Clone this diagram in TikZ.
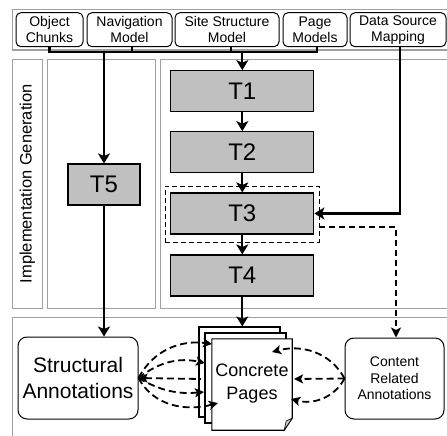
\documentclass[tikz,border=0pt]{standalone}
\usepackage{fontspec}
\setmainfont{Liberation Sans}
\usetikzlibrary{arrows.meta}
\definecolor{panelgray}{HTML}{A0A0A0}
\definecolor{taskgray}{HTML}{C0C0C0}
\definecolor{foldgray}{HTML}{C8C8C8}
\begin{document}
\begin{tikzpicture}[x=1pt,y=-1pt,
  panel/.style={draw=panelgray, line width=1pt},
  src/.style={draw, rounded corners=5pt, line width=1pt, inner sep=0pt,
    align=center, font=\fontsize{14}{16}\selectfont},
  task/.style={draw, fill=taskgray, line width=1.1pt, inner sep=0pt,
    minimum width=143pt, minimum height=41pt, font=\fontsize{24}{24}\selectfont},
  ann/.style={draw, rounded corners=9pt, line width=1pt, inner sep=0pt, align=center},
  page/.style={draw, fill=white, line width=1.1pt, inner sep=0pt},
  wire/.style={line width=2.2pt},
  arr/.style={line width=2.2pt, -{Stealth[length=10pt,width=12pt,inset=2.5pt]}},
  dashwire/.style={line width=1.8pt, dash pattern=on 6pt off 4pt},
  dasharr/.style={dashwire, -{Stealth[length=10pt,width=10pt,inset=2.5pt]}},
  linkarr/.style={line width=1.8pt, dash pattern=on 7pt off 4pt,
    -{Stealth[length=9pt,width=9pt,inset=2pt]}}
]
\useasboundingbox (0,0) rectangle (447,436);
\clip (0,0) rectangle (447,436);

% group frames
\draw[panel, line width=1.5pt] (12.5,9.5) rectangle (455,50);
\draw[panel] (12.3,59.3) rectangle (42.3,308.3);
\draw[panel] (47.7,59.3) rectangle (155,308.3);
\draw[panel] (160,59.5) rectangle (455,308.3);
\draw[panel] (12.3,317) rectangle (455,445);

\node[rotate=90, font=\fontsize{16.5}{18}\selectfont] (ig) at (27.3,183.8) {Implementation Generation};

% input models
\node[src, minimum width=67pt, minimum height=34pt] (oc) at (49.5,29.7) {Object\\Chunks};
\node[src, minimum width=85pt, minimum height=34pt] (nm) at (129.5,29.7) {Navigation\\Model};
\node[src, minimum width=104pt, minimum height=34pt] (ss) at (227,29.7) {Site Structure\\Model};
\node[src, minimum width=64pt, minimum height=34pt] (pm) at (315,29.7) {Page\\Models};
\node[src, minimum width=96pt, minimum height=34pt] (ds) at (398,29.7) {Data Source\\Mapping};

% transformation steps
\node[task] (t1) at (242.3,91.2) {T1};
\node[task] (t2) at (242.3,152.2) {T2};
\node[task] (t3) at (242.3,213.5) {T3};
\node[task] (t4) at (242.3,275.5) {T4};
\node[task, minimum width=72pt] (t5) at (104,184.5) {T5};
\node[draw, line width=1pt, dash pattern=on 5pt off 3pt, inner sep=0pt,
  minimum width=154pt, minimum height=56pt] (t3box) at (242,214) {};

% annotation outputs
\node[ann, minimum width=120pt, minimum height=82pt, font=\fontsize{21}{26}\selectfont]
  (sa) at (78,378) {Structural\\Annotations};
\node[ann, minimum width=99pt, minimum height=81pt, font=\fontsize{14}{16.5}\selectfont]
  (ca) at (394.5,378.5) {Content\\Related\\Annotations};

% stack of concrete pages
\node[page, minimum width=81pt, minimum height=90pt] (p3) at (239.5,372) {};
\node[page, minimum width=81pt, minimum height=90pt] (p2) at (245.5,378) {};
\node[inner sep=0pt, minimum width=80pt, minimum height=91pt] (p1) at (252,384.5) {};
\draw[line width=1.1pt, fill=white] (p1.north west) -- (p1.north east)
  -- ([yshift=12pt]p1.south east) -- ([xshift=-8pt]p1.south east)
  -- (p1.south west) -- cycle;
\draw[line width=0.6pt, fill=foldgray] ([yshift=12pt]p1.south east)
  -- ([xshift=-8pt]p1.south east) -- ([shift={(-6pt,9.3pt)}]p1.south east) -- cycle;
\node[align=center, font=\fontsize{18}{22.5}\selectfont] (cp) at (252,383.5) {Concrete\\Pages};

% model bus
\coordinate (bus) at (0,52);
\draw[wire] (oc.south) -- (oc.south |- bus) -- ([xshift=2pt]pm.south |- bus) -- ([xshift=2pt]pm.south);
\draw[wire] ([xshift=2.5pt]nm.south) -- ([xshift=2.5pt]nm.south |- bus);
\draw[wire] ([xshift=4pt]ss.south) -- ([xshift=4pt]ss.south |- bus);

\draw[arr] (t5.north |- bus) -- (t5.north);
\draw[arr] (t1.north |- bus) -- (t1.north);
\draw[arr] (t1) -- (t2);
\draw[arr] (t2) -- (t3);
\draw[arr] (t3) -- (t4);
\draw[arr] (t4.south) -- (t4.south |- p3.north);
\draw[arr] (t5.south) -- (t5.south |- sa.north);

% data source mapping feeds T3
\coordinate (dsturn) at (400,213.5);
\draw[arr] ([xshift=2pt]ds.south) -- (dsturn) -- (t3.east);

% T3 result feeds content annotations
\coordinate (cstart) at (319,227.3);
\coordinate (cturn) at (396,227.3);
\draw[dasharr] (cstart) -- (cturn) -- (cturn |- ca.north);

% links between structural annotations and pages
\coordinate (la) at (212,344);
\coordinate (lb) at (205,363);
\coordinate (lc) at (201,379);
\coordinate (ld) at (204,392);
\coordinate (le) at (218,403);
\draw[linkarr] (sa.east) to[out=62, in=172] (la);
\draw[linkarr] (sa.east) to[out=38, in=168] (lb);
\draw[linkarr, {Stealth[length=9pt,width=9pt,inset=2pt]}-] (sa.east) -- (lc);
\draw[linkarr] (sa.east) to[out=-30, in=185] (ld);
\draw[linkarr] (sa.east) to[out=-62, in=195] (le);

% links between content annotations and pages
\coordinate (lf) at (272,352);
\coordinate (lg) at (294,379);
\coordinate (lh) at (291,399);
\draw[linkarr] (ca.west) to[out=118, in=15] (lf);
\draw[linkarr] (ca.west) -- (lg);
\draw[linkarr] (ca.west) to[out=-118, in=-15] (lh);
\end{tikzpicture}
\end{document}
